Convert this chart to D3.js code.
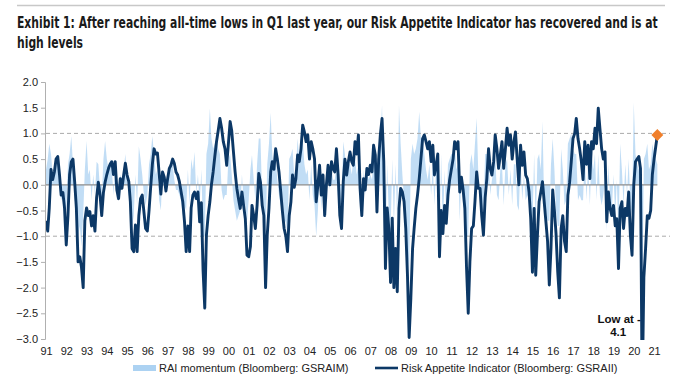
<!DOCTYPE html>
<html>
<head>
<meta charset="utf-8">
<script src="https://cdn.jsdelivr.net/npm/d3@7"></script>
<style>
  body { margin: 0; background: #fff; }
  svg { display: block; font-family: "Liberation Sans", Arial, sans-serif; }
</style>
</head>
<body>
<svg id="chart" width="680" height="383"></svg>
<script>
// Monthly readings, first value = Jan 1991
const startMonth = new Date(1991, 0, 1);

const yTicks = [2.0, 1.5, 1.0, 0.5, 0.0, -0.5, -1.0, -1.5, -2.0, -2.5, -3.0];
const yearLabels = ["91","92","93","94","95","96","97","98","99","00","01","02","03","04","05",
  "06","07","08","09","10","11","12","13","14","15","16","17","18","19","20","21"];

// Risk Appetite Indicator (GSRAII)
const rai = [
  -0.7, -0.9, -0.45, 0.3, 0.1, 0.25, 0.5, 0.55, 0.2, -0.2, -0.15, -0.45,
  -1.17, -0.6, 0.2, 0.45, 0.5, 0.05, -0.45, -1.5, -1.4, -1.6, -2.0, -0.7,
  -0.45, -0.6, -0.52, -0.8, -0.6, -0.9, -0.25, 0.05, -0.2, -0.6, -0.15, 0.05,
  0.2, 0.32, 0.4, 0.45, 0.2, 0.45, -0.1, -0.27, 0.12, -0.07, 0.19, 0.42,
  0.19, 0.06, -0.33, -1.24, -1.3, -0.78, -1.3, -0.6, -0.27, -0.2, -0.53, -0.85,
  -0.9, -0.5, -0.05, 0.4, 0.7, 0.6, 0.62, 0.22, -0.18, 0.25, 0.15, -0.12,
  0.12, 0.32, 0.38, 0.5, 0.42, 0.25, 0.19, 0.06, -0.14, -0.33, -0.72, -1.3,
  -0.8, -1.3, -0.45, -0.2, -0.14, -0.27, -0.14, -0.72, -0.35, -1.65, -2.4, -0.98,
  -0.6, -0.33, 0.0, 0.25, 0.55, 0.84, 1.05, 1.29, 1.1, 0.84, 0.7, 0.38,
  0.8, 1.23, 1.05, 0.64, 0.25, -0.07, -0.27, -0.46, -0.14, -0.4, -0.66, -1.37,
  -1.4, -1.2, -0.4, -0.6, -0.85, -0.4, 0.22, 0.05, -0.4, -0.6, -2.0, -0.98,
  -0.46, 0.25, 0.45, 0.3, 0.7, 0.5, 0.25, -0.14, -0.52, -0.85, -1.0, -1.3,
  -0.6, -0.33, 0.19, -0.05, 0.12, 0.58, 0.45, 0.7, 1.16, 1.03, 0.84, 0.97,
  0.5, 0.84, 0.7, 0.5, -0.33, 0.0, 0.38, -0.2, 0.19, -0.6, 0.0, 0.38,
  0.0, 0.45, 0.32, 0.25, 0.7, 0.19, -0.6, -0.85, 0.06, 0.5, 0.19, 0.45,
  0.64, 0.45, 0.38, 0.84, 0.6, 0.97, -0.07, -0.6, 0.12, -0.1, 0.32, 0.2,
  0.38, 0.25, 0.77, 0.58, -0.53, 0.5, 0.97, 1.29, 0.45, -1.63, -0.45, -0.85,
  -1.9, -0.65, -2.0, -1.24, -2.08, -0.46, -0.07, -0.14, -0.33, -0.85, -1.76, -2.97,
  -2.2, -1.24, -0.85, -0.46, -0.2, 0.12, 0.5, 0.9, 0.97, 0.84, 0.7, 0.84,
  0.45, 0.77, 0.19, 0.38, 0.6, -1.4, -0.5, -0.95, -0.4, -0.75, -0.2, 0.1,
  0.3, 0.5, 0.84, 0.7, 0.84, -0.14, 0.15, -0.1, -0.46, -1.6, -2.5, -1.5,
  -0.85, -0.8, -0.33, 0.25, -0.07, -0.07, -0.6, -0.98, -0.25, 0.12, 0.7, 0.32,
  0.19, 0.45, 0.97, 0.7, 0.32, 0.58, 0.84, 0.32, 0.7, 1.1, 0.77, 0.97,
  0.5, 0.84, 1.03, 0.5, 0.0, 0.77, 0.38, 0.64, 0.19, 0.12, -0.14, -0.66,
  -1.7, -0.46, -1.76, -0.98, -0.33, -0.14, 0.06, -0.33, -0.72, -1.1, -1.95, -1.24,
  -0.1, -0.5, -0.95, -1.7, -2.2, -0.85, -0.6, -1.1, -1.3, -0.2, 0.05, 0.45,
  0.9, 1.0, 1.29, 0.9, 0.7, 0.45, 0.1, 0.84, 0.4, 0.77, 0.12, 0.84,
  0.7, 1.1, 0.8, 1.49, 1.1, 0.7, 0.5, 0.64, -0.72, -0.14, -0.46, -0.6,
  -0.4, -0.8, -0.66, -1.63, -0.46, -0.33, -0.85, -0.46, -0.6, -0.14, -0.98, -1.37,
  0.0, 0.45, 0.5, 0.55, 0.32, -4.1, -1.8, -1.24, -0.6, -0.65, -0.5, 0.2,
  0.5, 0.75, 0.97
];

// RAI momentum (GSRAIM)
const momentum = [
  0.3, 0.5, 0.8, 0.6, 0.2, 0.3, 0.4, 0.5, -0.1, -0.3, -0.2, -0.4,
  -0.5, 0.4, 0.6, 0.95, 0.4, -0.3, -0.5, -1.0, -0.8, -1.2, -0.6, 0.3,
  0.85, 0.2, 0.3, -0.3, 0.2, -0.2, 0.45, 0.4, -0.1, -0.3, 0.5, 0.85,
  0.5, 0.3, 0.5, 0.3, -0.2, 0.35, -0.3, -0.2, 0.2, 0.1, 0.3, 0.6,
  0.1, -0.2, -0.4, -0.8, -0.6, 0.2, -0.4, 0.75, 0.5, 0.2, -0.2, -0.4,
  -0.2, 0.4, 0.6, 0.95, 0.6, 0.2, 0.3, -0.3, -0.5, 0.3, 0.1, -0.2,
  0.2, 0.3, 0.5, 0.4, 0.1, -0.1, -0.1, -0.2, -0.3, -0.6, -0.4, -0.5,
  0.3, -0.4, 0.5, 0.3, 0.64, -0.2, 0.2, -0.4, 0.3, -1.0, -1.0, 0.6,
  0.8, 1.49, 0.9, 0.7, 0.8, 0.9, 0.7, 0.6, -0.1, -0.3, -0.2, -0.2,
  0.5, 0.6, 0.2, -0.3, -0.5, -0.7, -0.6, -0.5, 0.2, -0.3, -0.4, -0.7,
  -0.3, 0.3, 0.58, 0.1, -0.3, 0.4, 0.9, 0.9, -0.3, -0.6, -1.0, 0.4,
  0.8, 1.4, 0.6, 0.3, 0.5, 0.1, -0.2, -0.4, -0.5, -0.8, -0.7, -1.0,
  0.5, 0.58, 0.7, 0.2, 0.3, 0.9, 0.5, 0.7, 0.9, 0.4, 0.2, 0.3,
  -0.3, 0.4, -0.2, -0.4, -1.0, -0.5, 0.3, -0.5, 0.2, -0.6, 0.2, 0.3,
  -0.1, 0.3, 0.1, 0.1, 0.4, -0.3, -0.5, -0.3, 0.84, 0.6, 0.2, 0.4,
  0.4, 0.2, 0.5, 0.5, 0.2, 0.4, -0.5, -0.5, 0.3, -0.2, 0.3, 0.1,
  0.2, 0.1, 0.6, 0.6, -0.4, 0.6, 0.9, 1.55, -0.2, -1.2, 0.4, -0.6,
  -1.0, 0.5, -0.8, 0.4, -0.8, 1.55, 0.8, 0.2, -0.3, -0.8, -1.3, -1.7,
  0.5, 0.8, 0.6, 0.7, 0.9, 1.42, 0.9, 0.9, 0.6, 0.3, 0.1, 0.4,
  -0.2, 0.4, -0.4, 0.3, 0.4, -1.1, 0.6, -1.0, 0.3, -0.6, 0.4, 0.5,
  0.6, 0.6, 0.8, 0.3, 0.4, -0.7, 0.2, -0.4, -0.6, -1.0, -1.0, 0.4,
  0.6, 0.3, 0.8, 1.3, 0.2, -0.2, -0.5, -0.5, 0.6, 0.6, 0.6, -0.2,
  0.1, 0.3, 0.6, -0.2, -0.3, 0.3, 0.4, -0.4, 0.4, 0.5, -0.2, 0.3,
  -0.4, 0.4, 0.4, -0.4, -0.5, 0.5, -0.3, 0.2, -0.3, -0.2, -0.3, -0.8,
  -0.8, 0.6, -0.8, 0.5, 0.6, 0.3, 1.23, -0.4, -0.5, -0.7, -0.7, 0.4,
  0.9, 0.3, -0.5, -0.8, -0.8, 0.7, 0.3, -0.4, -0.3, 0.8, 0.9, 1.0,
  0.7, 0.6, 0.6, -0.3, -0.2, -0.3, -0.3, 0.6, -0.3, 0.4, -0.4, 0.6,
  0.3, 0.6, -0.3, 0.6, -0.2, -0.4, -0.2, 0.1, -0.9, 0.4, -0.3, -0.5,
  0.2, -0.6, 0.1, -1.0, 0.8, 0.3, -0.4, 0.4, -0.2, 0.5, -0.4, -0.6,
  1.6, 0.6, 0.4, 0.3, -0.2, -2.5, 0.5, 0.6, 0.8, 0.3, 0.4, 0.8,
  0.6, 0.5, 0.4
];

const svg = d3.select("#chart");

// Title (condensed look: squeeze horizontally)
svg.append("line")
  .attr("x1", 17).attr("x2", 665).attr("y1", 5.5).attr("y2", 5.5)
  .attr("stroke", "#c8c8c8").attr("stroke-width", 1.5);

const titleLines = [
  "Exhibit 1: After reaching all-time lows in Q1 last year, our Risk Appetite Indicator has recovered and is at",
  "high levels"
];
const squeeze = 0.8;
svg.selectAll(".title")
  .data(titleLines)
  .join("text")
    .attr("class", "title")
    .attr("transform", (d, i) => `translate(17,${28 + i * 20}) scale(${squeeze},1)`)
    .style("font-family", "'Liberation Sans Narrow', 'DejaVu Sans Condensed', Arial, sans-serif")
    .style("font-weight", "bold")
    .style("font-size", "15px")
    .style("fill", "#1a1a1a")
    .text(d => d);

// Scales
const x = d3.scaleTime()
  .domain([new Date(1991, 0, 1), new Date(2021, 9, 15)])
  .range([46, 670]);
const y = d3.scaleLinear()
  .domain([-3, 2])
  .range([339, 82]);

const dates = rai.map((v, i) => d3.timeMonth.offset(startMonth, i));
const raiData = rai.map((v, i) => ({date: dates[i], value: v}));
const momData = momentum.map((v, i) => ({date: dates[i], value: v}));
const lastDate = dates[dates.length - 1];

// Clip to plot area
svg.append("clipPath").attr("id", "plot-clip")
  .append("rect")
    .attr("x", x.range()[0]).attr("y", y(2) - 2)
    .attr("width", x.range()[1] - x.range()[0])
    .attr("height", y(-3) - y(2) + 3);

// Momentum area
const area = d3.area()
  .x(d => x(d.date))
  .y0(y(0))
  .y1(d => y(d.value));
svg.append("path")
  .datum(momData)
  .attr("clip-path", "url(#plot-clip)")
  .attr("d", area)
  .attr("fill", "#acd2f2")
  .attr("opacity", 0.75);

// Reference lines at +1 / -1 (dashed) and 0 (solid)
svg.selectAll(".ref")
  .data([1, -1])
  .join("line")
    .attr("x1", x.range()[0]).attr("x2", x.range()[1])
    .attr("y1", d => y(d)).attr("y2", d => y(d))
    .attr("stroke", "#aaaaaa")
    .attr("stroke-width", 1)
    .attr("stroke-dasharray", "4,3");

svg.append("line")
  .attr("x1", x.range()[0]).attr("x2", x(lastDate))
  .attr("y1", y(0)).attr("y2", y(0))
  .attr("stroke", "#8c8c8c").attr("stroke-width", 1.3);

// RAI line
const line = d3.line()
  .x(d => x(d.date))
  .y(d => y(d.value));
svg.append("path")
  .datum(raiData)
  .attr("clip-path", "url(#plot-clip)")
  .attr("d", line)
  .attr("fill", "none")
  .attr("stroke", "#0c3866")
  .attr("stroke-width", 2.9)
  .attr("stroke-linejoin", "round");

// Latest value marker
svg.append("path")
  .attr("d", d3.symbol(d3.symbolDiamond2, 90)())
  .attr("transform", `translate(${x(lastDate)},${y(rai[rai.length - 1])})`)
  .attr("fill", "#f07f2b");

// Y axis
const yAxis = svg.append("g")
  .attr("transform", "translate(45,0)")
  .call(d3.axisLeft(y).tickValues(yTicks).tickFormat(d3.format(".1f")).tickSize(4).tickPadding(3));
yAxis.select(".domain").attr("stroke", "#b0b0b0");
yAxis.selectAll(".tick line").attr("stroke", "#b0b0b0");
yAxis.selectAll(".tick text")
  .style("font-size", "11px")
  .style("fill", "#222");

// X axis labels (no axis line)
const yearDates = yearLabels.map((d, i) => new Date(1991 + i, 0, 1));
const xAxis = svg.append("g")
  .attr("transform", `translate(0,${y(-3) + 5})`)
  .call(d3.axisBottom(x).tickValues(yearDates).tickFormat((d, i) => yearLabels[i]).tickSize(0).tickPadding(3));
xAxis.select(".domain").remove();
xAxis.selectAll(".tick text")
  .style("font-size", "11px")
  .style("fill", "#222");

// Annotation for the low
const lowIdx = rai.indexOf(d3.min(rai));
const ann = svg.append("text")
  .attr("text-anchor", "middle")
  .style("font-size", "11.5px")
  .style("font-weight", "bold")
  .style("fill", "#111");
ann.append("tspan")
  .attr("x", x(dates[lowIdx]) - 23).attr("y", y(-2.6) + 5)
  .text("Low at -");
ann.append("tspan")
  .attr("x", x(dates[lowIdx]) - 24).attr("y", y(-2.6) + 18)
  .text("4.1");

// Legend
const legendItems = [
  {label: "RAI momentum (Bloomberg: GSRAIM)", type: "area", x: 133},
  {label: "Risk Appetite Indicator (Bloomberg: GSRAII)", type: "line", x: 375}
];
const legend = svg.selectAll(".legend")
  .data(legendItems)
  .join("g")
    .attr("class", "legend")
    .attr("transform", d => `translate(${d.x},368)`);
legend.filter(d => d.type === "area").append("rect")
  .attr("x", 0).attr("y", -3).attr("width", 23).attr("height", 6)
  .attr("fill", "#acd2f2");
legend.filter(d => d.type === "line").append("line")
  .attr("x1", 0).attr("x2", 23).attr("y1", 0).attr("y2", 0)
  .attr("stroke", "#0c3866").attr("stroke-width", 2.6);
legend.append("text")
  .attr("x", 26).attr("y", 4)
  .style("font-size", "11px")
  .style("fill", "#222")
  .text(d => d.label);
</script>
</body>
</html>
